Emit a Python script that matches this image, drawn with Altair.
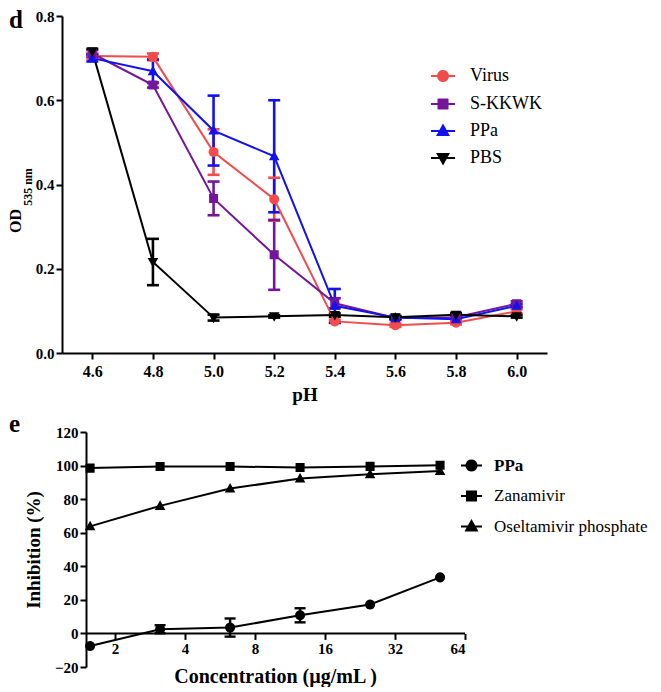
import math
import altair as alt
import pandas as pd

FONT = "Liberation Serif, Times New Roman, Times, serif"
LEG_FONT = "Times New Roman"

# ---------------- panel d : OD535 vs pH ----------------
ph = [4.6, 4.8, 5.0, 5.2, 5.4, 5.6, 5.8, 6.0]
series_d = ["Virus", "S-KKWK", "PPa", "PBS"]
virus_mean = [0.705, 0.703, 0.477, 0.365, 0.075, 0.066, 0.072, 0.099]
virus_err = [0.006, 0.008, 0.054, 0.051, 0.004, 0.004, 0.004, 0.005]
skkwk_mean = [0.711, 0.636, 0.367, 0.233, 0.118, 0.083, 0.085, 0.117]
skkwk_err = [0.008, 0.006, 0.040, 0.083, 0.012, 0.004, 0.004, 0.006]
ppa_mean = [0.700, 0.669, 0.528, 0.467, 0.112, 0.084, 0.080, 0.112]
ppa_err = [0.008, 0.028, 0.083, 0.133, 0.040, 0.004, 0.005, 0.005]
pbs_mean = [0.716, 0.216, 0.084, 0.087, 0.090, 0.085, 0.091, 0.087]
pbs_err = [0.006, 0.055, 0.007, 0.003, 0.004, 0.003, 0.004, 0.003]
colors_d = ["#F24B4B", "#74169C", "#1212EE", "#000000"]
shapes_d = ["circle", "square", "triangle-up", "triangle-down"]
od_ticks = [0.0, 0.2, 0.4, 0.6, 0.8]

# ---------------- panel e : inhibition vs concentration ----------------
conc = [1.5625, 3.125, 6.25, 12.5, 25, 50]
series_e = ["PPa", "Zanamivir", "Oseltamivir phosphate"]
ppa_inh = [-7.5, 2.5, 3.5, 10.8, 17.2, 33.4]
ppa_inh_err = [0, 2.4, 5.4, 4.2, 0, 0]
zana_inh = [98.5, 99.4, 99.4, 98.9, 99.5, 100.2]
zana_err = [0, 0, 0, 0, 0, 0]
osel_inh = [63.8, 76.0, 86.3, 92.3, 94.8, 96.8]
osel_err = [0, 0, 0, 0, 0, 0]
colors_e = ["#000000", "#000000", "#000000"]
shapes_e = ["circle", "square", "triangle-up"]
conc_ticks = [2, 4, 8, 16, 32, 64]
conc_axis_span = [1.5, 64]
inh_ticks = [-20, 0, 20, 40, 60, 80, 100, 120]


def long_table(xname, xs, names, means, errs):
    rows = []
    for s, m, e in zip(names, means, errs):
        for xv, mv, ev in zip(xs, m, e):
            rows.append({xname: xv, "series": s, "mean": mv,
                         "lo": mv - ev, "hi": mv + ev, "err": ev})
    return pd.DataFrame(rows)


df_d = long_table("pH", ph, series_d, [virus_mean, skkwk_mean, ppa_mean, pbs_mean],
                  [virus_err, skkwk_err, ppa_err, pbs_err])
df_e = long_table("conc", conc, series_e, [ppa_inh, zana_inh, osel_inh],
                  [ppa_inh_err, zana_err, osel_err])
df_e_axis = pd.DataFrame({"x1": [conc_axis_span[0]], "x2": [conc_axis_span[1]], "y0": [0]})


def symbol_paths(shapes, r, half_line):
    """marker outline + a horizontal segment. The segment is an open sub-path: it is only seen
    where the symbol is stroked (the legend); data points are fill-only."""
    out = []
    line = f"M{-half_line:.3f},0L{half_line:.3f},0"
    for s in shapes:
        if s == "circle":
            pts = [(r * math.cos(2 * math.pi * k / 20), r * math.sin(2 * math.pi * k / 20)) for k in range(20)]
            m = "M" + "L".join(f"{x:.3f},{y:.3f}" for x, y in pts) + "Z"
        elif s == "square":
            q = r * 0.9
            m = f"M{-q:.3f},{-q:.3f}L{q:.3f},{-q:.3f}L{q:.3f},{q:.3f}L{-q:.3f},{q:.3f}Z"
        elif s == "triangle-up":
            m = f"M0,{-r * 1.1:.3f}L{r * 1.05:.3f},{r * 0.8:.3f}L{-r * 1.05:.3f},{r * 0.8:.3f}Z"
        else:
            m = f"M0,{r * 1.1:.3f}L{r * 1.05:.3f},{-r * 0.8:.3f}L{-r * 1.05:.3f},{-r * 0.8:.3f}Z"
        out.append(line + m)
    return out


def expr_switch(names, values):
    s = f"'{values[-1]}'"
    for n, v in reversed(list(zip(names[:-1], values[:-1]))):
        s = f"datum.value === '{n}' ? '{v}' : ({s})"
    return {"expr": s}


axis_common = dict(
    domainColor="black", domainWidth=2, tickColor="black", tickWidth=2,
    labelColor="black", labelFont=FONT, labelFontWeight="bold",
    titleColor="black", titleFont=FONT, titleFontWeight="bold", grid=False,
)

SIZE_D = 372   # symbol box 19.3px
SIZE_E = 441   # symbol box 21px

# ---------- panel d chart ----------
legend_d = alt.Legend(
    title=None, orient="none", legendX=370, legendY=49, symbolSize=SIZE_D,
    labelFont=LEG_FONT, labelFontSize=18, labelFontWeight="normal", labelColor="black",
    labelOffset=16, rowPadding=7, padding=0,
    symbolFillColor=expr_switch(series_d, colors_d),
    symbolStrokeColor=expr_switch(series_d, colors_d),
    symbolStrokeWidth=2, symbolOpacity=1,
)

xd_scale = alt.Scale(domain=[4.5, 6.1], nice=False, zero=False)
yd_scale = alt.Scale(domain=[0, 0.8], nice=False)
xd_axis = alt.Axis(values=ph, format=".1f", title="pH", tickSize=6, labelFontSize=16,
                   labelPadding=4, titleFontSize=19, titlePadding=6, **axis_common)
yd_axis = alt.Axis(values=od_ticks, format=".1f", title=None, tickSize=6, labelFontSize=15,
                   labelPadding=2, **axis_common)
color_d = alt.Color("series:N", scale=alt.Scale(domain=series_d, range=colors_d), legend=legend_d)
shape_d = alt.Shape("series:N", scale=alt.Scale(domain=series_d, range=symbol_paths(shapes_d, 0.52, 1.25)),
                    legend=legend_d)

xd = alt.X("pH:Q", scale=xd_scale, axis=xd_axis)
base_d = alt.Chart(df_d)
err_d = base_d.mark_rule(strokeWidth=2.6).encode(
    x=xd, y=alt.Y("lo:Q", scale=yd_scale, axis=yd_axis), y2="hi:Q", color=color_d)
caplo_d = base_d.mark_tick(orient="horizontal", size=12, thickness=2.6, opacity=1).encode(
    x=xd, y=alt.Y("lo:Q", scale=yd_scale, axis=yd_axis), color=color_d)
caphi_d = base_d.mark_tick(orient="horizontal", size=12, thickness=2.6, opacity=1).encode(
    x=xd, y=alt.Y("hi:Q", scale=yd_scale, axis=yd_axis), color=color_d)
line_d = base_d.mark_line(strokeWidth=2).encode(
    x=xd, y=alt.Y("mean:Q", scale=yd_scale, axis=yd_axis), color=color_d)
pts_d = base_d.mark_point(filled=True, size=SIZE_D, opacity=1, strokeWidth=0).encode(
    x=xd, y=alt.Y("mean:Q", scale=yd_scale, axis=yd_axis), color=color_d, shape=shape_d)

lab_d = alt.Chart(pd.DataFrame({"t": ["d"]})).mark_text(
    font=FONT, fontSize=25, fontWeight="bold", align="left", baseline="alphabetic", color="black"
).encode(x=alt.value(-53), y=alt.value(12), text="t:N")
od_d = alt.Chart(pd.DataFrame({"t": ["OD"]})).mark_text(
    font=FONT, fontSize=16, fontWeight="bold", align="center", baseline="middle", angle=270, color="black"
).encode(x=alt.value(-46), y=alt.value(205), text="t:N")
nm_d = alt.Chart(pd.DataFrame({"t": ["535 nm"]})).mark_text(
    font=FONT, fontSize=12, fontWeight="bold", align="center", baseline="middle", angle=270, color="black"
).encode(x=alt.value(-34), y=alt.value(171), text="t:N")

chart_d = alt.layer(err_d, caplo_d, caphi_d, line_d, pts_d, lab_d, od_d, nm_d).properties(
    width=485, height=337)

# ---------- panel e chart ----------
legend_e = alt.Legend(
    title=None, orient="none", legendX=398, legendY=22, symbolSize=SIZE_E,
    labelFont=LEG_FONT, labelFontSize=17, labelColor="black",
    labelFontWeight={"expr": "datum.value === 'PPa' ? 'bold' : 'normal'"},
    labelOffset=11, rowPadding=9.5, padding=0,
    symbolFillColor="black", symbolStrokeColor="black",
    symbolStrokeWidth=2, symbolOpacity=1,
)

# plot area starts 24px left of the y axis, so both panels share the same left edge
xe_scale = alt.Scale(type="log", base=2, domain=[1.183, 64], nice=False)
ye_scale = alt.Scale(domain=[-20, 120], nice=False)
xe_axis = alt.Axis(values=conc_ticks, format="d", title="Concentration (µg/mL )", tickSize=6,
                   labelFontSize=15, labelPadding=2, titleFontSize=20, titlePadding=10,
                   offset=-33.6, domain=False, titleX=213, **axis_common)
ye_axis = alt.Axis(values=inh_ticks, format="d", title="Inhibition (%)", tickSize=6,
                   labelFontSize=15, labelPadding=2, titleFontSize=19, titlePadding=11,
                   offset=-24, **axis_common)
color_e = alt.Color("series:N", scale=alt.Scale(domain=series_e, range=colors_e), legend=legend_e)
shape_e = alt.Shape("series:N", scale=alt.Scale(domain=series_e, range=symbol_paths(shapes_e, 0.48, 1.0)),
                    legend=legend_e)
xe = alt.X("conc:Q", scale=xe_scale, axis=xe_axis)

base_e = alt.Chart(df_e)
axis_rule_e = alt.Chart(df_e_axis).mark_rule(strokeWidth=2, color="black").encode(
    x=alt.X("x1:Q", scale=xe_scale, axis=xe_axis), x2="x2:Q",
    y=alt.Y("y0:Q", scale=ye_scale, axis=ye_axis))
errsrc = base_e.transform_filter("datum.err > 0")
err_e = errsrc.mark_rule(strokeWidth=2.4).encode(
    x=xe, y=alt.Y("lo:Q", scale=ye_scale, axis=ye_axis), y2="hi:Q", color=color_e)
caplo_e = errsrc.mark_tick(orient="horizontal", size=11, thickness=2.4, opacity=1).encode(
    x=xe, y=alt.Y("lo:Q", scale=ye_scale, axis=ye_axis), color=color_e)
caphi_e = errsrc.mark_tick(orient="horizontal", size=11, thickness=2.4, opacity=1).encode(
    x=xe, y=alt.Y("hi:Q", scale=ye_scale, axis=ye_axis), color=color_e)
line_e = base_e.mark_line(strokeWidth=2).encode(
    x=xe, y=alt.Y("mean:Q", scale=ye_scale, axis=ye_axis), color=color_e)
pts_e = base_e.mark_point(filled=True, size=SIZE_E, opacity=1, strokeWidth=0).encode(
    x=xe, y=alt.Y("mean:Q", scale=ye_scale, axis=ye_axis), color=color_e, shape=shape_e)

lab_e = alt.Chart(pd.DataFrame({"t": ["e"]})).mark_text(
    font=FONT, fontSize=25, fontWeight="bold", align="left", baseline="alphabetic", color="black"
).encode(x=alt.value(-53), y=alt.value(0), text="t:N")

chart_e = alt.layer(axis_rule_e, err_e, caplo_e, caphi_e, line_e, pts_e, lab_e).properties(
    width=403, height=235)

chart = alt.vconcat(chart_d, chart_e, spacing=8).resolve_scale(
    color="independent", shape="independent", x="independent", y="independent"
).properties(
    padding={"left": 0, "top": 0, "right": 0, "bottom": 0},
    background="white",
).configure_axis(labelFont=FONT, titleFont=FONT).configure_view(stroke=None)

chart.save("out.html", embed_options={"renderer": "svg", "actions": False})
